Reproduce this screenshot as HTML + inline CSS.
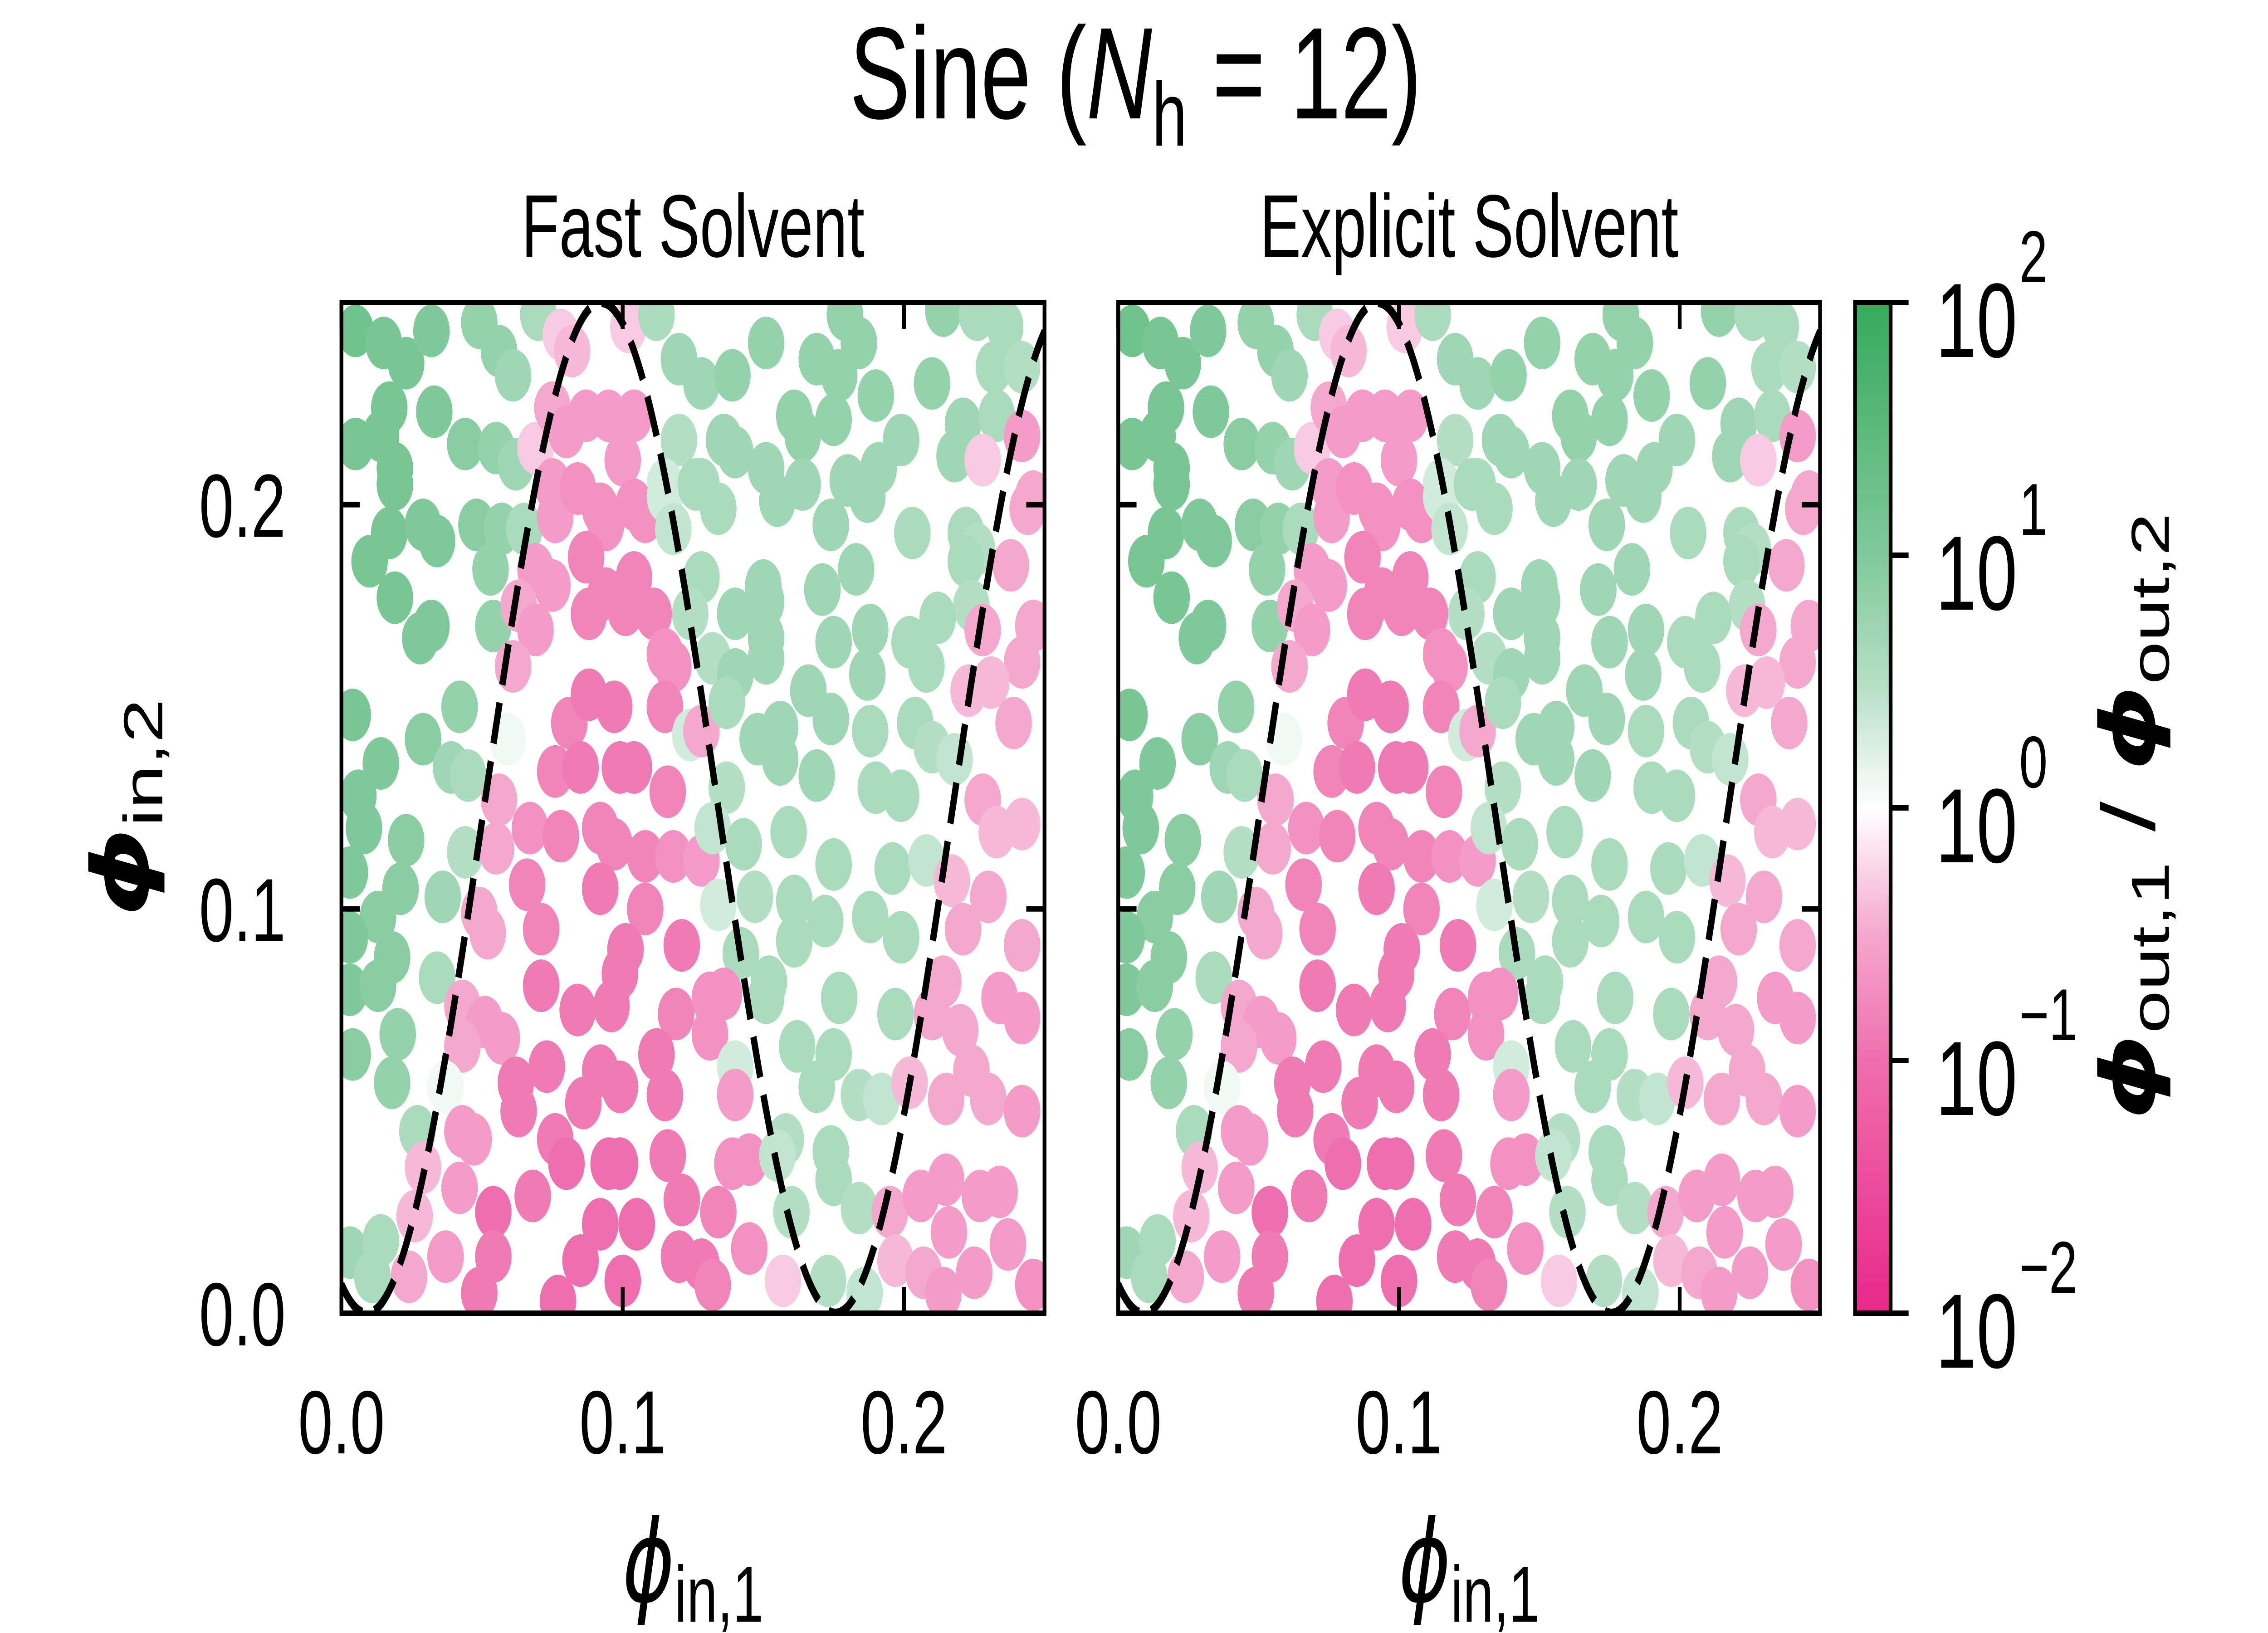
<!DOCTYPE html>
<html><head><meta charset="utf-8"><style>
html,body{margin:0;padding:0;background:#fff;width:100%;height:100%;overflow:hidden;}
svg{display:block;width:100vw;height:100vh;}
text{font-family:"Liberation Sans","DejaVu Sans",sans-serif;fill:#000;}
</style></head>
<body>
<svg id="fig" viewBox="0 0 7200 3600" preserveAspectRatio="none" xmlns="http://www.w3.org/2000/svg">
<defs>
<clipPath id="clipL"><rect x="1084" y="667" width="2232" height="2228"/></clipPath>
<clipPath id="clipR"><rect x="3550" y="667" width="2228" height="2228"/></clipPath>
<linearGradient id="cbgrad" x1="0" y1="1" x2="0" y2="0"></linearGradient>
</defs>
<text x="3605" y="261" font-size="288" text-anchor="middle">Sine (<tspan font-style="italic">N</tspan><tspan font-size="200" dy="60">h</tspan><tspan dy="-60"> = 12)</tspan></text>
<text x="2200" y="566" font-size="196" text-anchor="middle">Fast Solvent</text>
<text x="4664" y="566" font-size="196" text-anchor="middle">Explicit Solvent</text>
<g id="panelL"></g>
<g id="panelR"></g>
<g id="cbar"></g>
<text transform="translate(470,1781) rotate(-90)" font-size="250" text-anchor="middle"><tspan font-family="DejaVu Sans" font-style="italic" font-weight="bold">ϕ</tspan><tspan font-size="175" dy="45">in,2</tspan></text>
<text x="2200" y="3530" font-size="250" text-anchor="middle"><tspan font-family="DejaVu Sans" font-style="italic">ϕ</tspan><tspan font-size="175" dy="45">in,1</tspan></text>
<text x="4664" y="3530" font-size="250" text-anchor="middle"><tspan font-family="DejaVu Sans" font-style="italic">ϕ</tspan><tspan font-size="175" dy="45">in,1</tspan></text>
<text transform="translate(6840,1800) rotate(-90)" font-size="240" text-anchor="middle"><tspan font-family="DejaVu Sans" font-style="italic" font-weight="bold">ϕ</tspan><tspan font-size="170" dy="45">out,1</tspan><tspan dy="-45"> / </tspan><tspan font-family="DejaVu Sans" font-style="italic" font-weight="bold">ϕ</tspan><tspan font-size="170" dy="45">out,2</tspan></text>
</svg>
<script>
const ptX = [.005,.015,.023,.032,.049,.056,.061,.070,.078,.082,.102,.112,.120,.128,.139,.151,.169,.177,.184,.179,.190,.210,.214,.226,.236,.232,.242,
.017,.033,.005,.014,.019,.044,.055,.062,.069,.075,.080,.087,.095,.104,.100,.120,.115,.136,.140,.128,.151,.161,.164,.175,.180,.191,.199,.221,.233,.218,.228,.242,.246,
.019,.017,.029,.034,.048,.057,.065,.075,.076,.084,.092,.094,.104,.108,.115,.118,.126,.134,.155,.164,.174,.187,.203,.222,.226,.244,
.010,.019,.053,.069,.075,.087,.094,.104,.088,.101,.111,.128,.124,.150,.140,.151,.171,.183,.222,.224,.238,.212,
.028,.032,.054,.063,.069,.061,.115,.118,.132,.151,.151,.140,.175,.188,.187,.202,.208,.228,.246,.242,.223,.231,
.004,.029,.042,.039,.059,.081,.088,.097,.115,.124,.128,.137,.148,.156,.166,.174,.188,.204,.210,.218,.239,
.014,.006,.045,.056,.076,.085,.099,.104,.116,.137,.156,.169,.190,.199,.228,
.008,.023,.003,.021,.013,.044,.055,.067,.078,.092,.097,.108,.118,.128,.066,.092,.108,.132,.143,.134,.147,.159,.175,.161,.172,.196,.208,.217,.233,.242,.230,.221,.242,
.003,.018,.036,.049,.052,.071,.101,.121,.142,.152,.161,.188,.199,.177,.197,.214,.210,.234,.242,.220,
.003,.013,.034,.043,.051,.057,.043,.071,.084,.096,.099,.119,.131,.131,.136,.151,
.004,.018,.020,.037,.062,.073,.063,.092,.099,.086,.112,.115,.140,.140,.162,.175,.169,.184,.192,.202,.215,.224,.230,.242,
.027,.043,.047,.076,.080,.095,.099,.116,.139,.145,.158,.155,.174,.175,.184,
.029,.042,.068,.054,.092,.105,.121,.134,.145,.160,.195,.206,.215,.227,.234,.216,
.003,.014,.011,.026,.024,.037,.054,.049,.077,.085,.100,.120,.128,.132,.157,.173,.186,.197,.207,.214,.225,.237,.246];
const ptY = [.243,.240,.235,.243,.245,.238,.232,.247,.242,.238,.244,.247,.236,.230,.232,.240,.236,.232,.240,.247,.227,.230,.248,.247,.244,.234,.234,
.224,.223,.215,.217,.209,.215,.214,.210,.214,.224,.218,.222,.222,.222,.211,.216,.205,.216,.213,.205,.209,.222,.217,.221,.206,.209,.216,.220,.222,.212,.211,.217,.202,
.205,.193,.195,.191,.195,.194,.194,.205,.197,.204,.199,.195,.200,.197,.202,.194,.205,.199,.201,.205,.195,.202,.193,.193,.189,.199,
.186,.177,.184,.184,.180,.187,.178,.182,.173,.174,.173,.182,.173,.180,.173,.176,.179,.184,.186,.175,.185,.172,
.167,.170,.170,.175,.169,.160,.163,.160,.162,.167,.162,.158,.166,.169,.158,.166,.160,.169,.170,.161,.154,.156,
.148,.142,.150,.135,.142,.146,.153,.150,.150,.143,.144,.151,.142,.145,.154,.147,.144,.146,.140,.137,.146,
.136,.128,.133,.127,.134,.135,.135,.135,.129,.130,.137,.133,.130,.128,.127,
.120,.117,.109,.105,.098,.114,.115,.120,.118,.120,.116,.113,.113,.112,.106,.105,.100,.120,.116,.101,.103,.119,.111,.102,.097,.110,.112,.107,.119,.121,.103,.095,.091,
.093,.088,.103,.099,.094,.095,.090,.091,.089,.082,.092,.098,.093,.078,.074,.082,.074,.078,.073,.070,
.080,.081,.083,.076,.072,.068,.066,.081,.075,.076,.084,.074,.078,.069,.079,.078,
.064,.057,.069,.056,.057,.061,.050,.060,.056,.052,.064,.054,.061,.054,.066,.064,.056,.054,.053,.057,.053,.060,.053,.050,
.045,.045,.043,.043,.037,.037,.037,.039,.037,.038,.043,.039,.040,.033,.026,
.036,.031,.029,.025,.022,.022,.028,.025,.016,.025,.025,.029,.033,.029,.030,.020,
.015,.018,.009,.024,.009,.014,.014,.005,.003,.013,.008,.014,.012,.007,.008,.008,.005,.013,.010,.005,.010,.017,.007];
// log10(phi_out,1 / phi_out,2) per point, Fast Solvent
const logRatioFast = [1.2,1.1,1.1,1.0,.8,.8,.7,.6,-.3,-.4,-.3,.6,.7,.7,.8,.8,.8,.8,.8,.8,.8,.8,.8,.6,.6,.6,.5,
1.1,1.0,1.1,1.1,1.1,.9,.8,.7,-.3,-.5,-.6,-.6,-.6,-.6,-.6,.5,.3,.7,.7,.6,.7,.8,.8,.8,.7,.7,.7,.7,.6,.7,-.3,-.6,-.5,
1.1,1.1,1.0,1.0,.9,.8,.6,-.6,-.6,-.7,-.7,-.7,-.7,-.7,.3,.4,.6,.6,.7,.7,.7,.7,.6,.6,.5,-.5,
1.1,1.1,.8,-.6,-.6,-.8,-.8,-.8,-.8,-.8,-.8,.6,.5,.7,.7,.7,.7,.7,.6,.5,-.5,.6,
1.0,1.0,.8,-.5,-.6,-.5,-.7,-.7,.5,.7,.7,.7,.7,.7,.7,.6,.6,-.5,-.5,-.5,-.4,-.4,
1.1,.9,.8,.7,.1,-.8,-.9,-.9,-.8,.3,-.5,.6,.7,.7,.7,.7,.6,.6,.5,.4,-.5,
1.0,1.0,.6,-.5,-.8,-.9,-.9,-.9,-.8,.5,.7,.7,.6,.6,-.5,
1.0,.9,1.0,.9,.9,.5,-.5,-.7,-.8,-.8,-.8,-.8,-.7,-.6,-.8,-.9,-.8,.4,.6,.3,.5,.6,.6,.6,.6,.6,.4,-.4,-.4,-.4,-.5,-.5,-.5,
1.0,.9,.7,-.5,-.5,-.8,-.9,-.9,.6,.6,.6,.6,.6,.6,.6,-.5,-.5,-.6,-.6,-.5,
1.0,.9,.6,-.5,-.6,-.6,-.5,-.9,-.9,-.9,-.9,-.8,-.7,-.7,-.7,.6,
.9,.8,.8,.1,-.9,-.9,-.9,-.9,-.9,-.9,-.9,-.9,.3,-.6,.6,.6,.6,.5,.4,-.4,-.5,-.5,-.5,-.6,
.6,-.6,-.6,-.9,-1.0,-1.0,-1.0,-.9,-.7,-.7,.5,.4,.6,.6,.5,
-.4,-.6,-.9,-1.0,-1.0,-1.0,-.9,-.8,-.7,.5,-.5,-.6,-.6,-.6,-.6,-.6,
.7,.6,.6,-.4,-.5,-.6,-.9,-.9,-1.0,-1.0,-1.0,-.9,-.9,-.8,-.3,.5,.4,-.4,-.5,-.6,-.6,-.6,-.7];
// Explicit Solvent: nearly identical ratios
const logRatioExplicit = logRatioFast.slice();
const xTicks = [0.0, 0.1, 0.2];
const xTickLabels = ["0.0", "0.1", "0.2"];
const yTicks = [0.0, 0.1, 0.2];
const yTickLabels = ["0.0", "0.1", "0.2"];
const cbTicks = [-2, -1, 0, 1, 2];
const cbTickExps = ["\u22122", "\u22121", "0", "1", "2"];
// boundary curve parameters
const sineAmp = 0.125, sineOffset = 0.125, sinePeriod = 1/6, sinePhase = 0.009;

const NS = "http://www.w3.org/2000/svg";
function mk(tag, attrs, parent){ const e=document.createElementNS(NS,tag); for(const k in attrs) e.setAttribute(k,attrs[k]); parent.appendChild(e); return e; }
const stops = [[-2,[0xe8,0x28,0x8a]],[-1,[0xef,0x6e,0xad]],[-0.5,[0xf5,0xa8,0xce]],[0,[255,255,255]],[0.5,[0xb3,0xdf,0xc4]],[1,[0x80,0xc9,0x9b]],[2,[0x35,0xaa,0x5b]]];
function cmap(v){
  v=Math.max(-2,Math.min(2,v));
  for(let i=0;i<stops.length-1;i++){
    const a=stops[i],b=stops[i+1];
    if(v<=b[0]){ const t=(v-a[0])/(b[0]-a[0]); const c=a[1].map((q,j)=>Math.round(q+(b[1][j]-q)*t)); return `rgb(${c[0]},${c[1]},${c[2]})`; }
  }
  return "rgb(53,170,91)";
}
const Y0=667, Y1=2895;
function makePanel(g, x0, x1, clipId, colors, showYLabels){
  const sx = v => x0 + v/0.25*(x1-x0);
  const sy = v => Y1 - v/0.25*(Y1-Y0);
  const pts = mk("g",{"clip-path":`url(#${clipId})`},g);
  for(let i=0;i<ptX.length;i++){
    const c = mk("circle",{cx:sx(ptX[i]),cy:sy(ptY[i]),r:58,fill:cmap(colors[i])},pts);
    
    
  }
  let d="";
  for(let k=0;k<=600;k++){ const xv=0.25*k/600; const yv=sineOffset - sineAmp*Math.cos(2*Math.PI*(xv-sinePhase)/sinePeriod); d+=(k?"L":"M")+sx(xv).toFixed(1)+","+sy(yv).toFixed(1); }
  const cur = mk("path",{d:d,fill:"none",stroke:"#000","stroke-width":20,"stroke-dasharray":"92 40"},pts);
  
  
  const fr = mk("rect",{x:x0,y:Y0,width:x1-x0,height:Y1-Y0,fill:"none",stroke:"#000","stroke-width":12},g);
  
  
  xTicks.forEach((t,i)=>{
    const X=sx(t);
    mk("line",{x1:X,y1:Y1,x2:X,y2:Y1-58,stroke:"#000","stroke-width":12},g);
    mk("line",{x1:X,y1:Y0,x2:X,y2:Y0+58,stroke:"#000","stroke-width":12},g);
    const tl = mk("text",{x:X,y:3204,"font-size":198,"text-anchor":"middle"},g);
    tl.textContent = xTickLabels[i];
    
    
  });
  yTicks.forEach((t,i)=>{
    const Y=sy(t);
    mk("line",{x1:x0,y1:Y,x2:x0+58,y2:Y,stroke:"#000","stroke-width":12},g);
    mk("line",{x1:x1,y1:Y,x2:x1-58,y2:Y,stroke:"#000","stroke-width":12},g);
    if(showYLabels){
      const tl = mk("text",{x:907,y:Y+71,"font-size":198,"text-anchor":"end"},g);
      tl.textContent = yTickLabels[i];
      
      
    }
  });
}
makePanel(document.getElementById("panelL"),1084,3316,"clipL",logRatioFast,true);
makePanel(document.getElementById("panelR"),3550,5778,"clipR",logRatioExplicit,false);

// colorbar
const grad=document.getElementById("cbgrad");
for(let k=0;k<=40;k++){ const v=-2+4*k/40; mk("stop",{offset:(k/40).toFixed(3),"stop-color":cmap(v)},grad); }
const cb=document.getElementById("cbar");
const CX0=5889, CX1=6002;
const cy = v => Y1 - (v+2)/4*(Y1-Y0);
mk("rect",{x:CX0,y:Y0,width:CX1-CX0,height:Y1-Y0,fill:"url(#cbgrad)",stroke:"#000","stroke-width":12},cb);
cbTicks.forEach((t,i)=>{
  const Y=cy(t);
  mk("line",{x1:CX1,y1:Y,x2:CX1+57,y2:Y,stroke:"#000","stroke-width":12},cb);
  const tl=mk("text",{x:6145,y:Y+120,"font-size":233},cb);
  
  
  tl.textContent="10";
  const sp=mk("tspan",{"font-size":162,dy:-165,dx:6},tl);
  sp.textContent=cbTickExps[i];
});
</script>
</body></html>
